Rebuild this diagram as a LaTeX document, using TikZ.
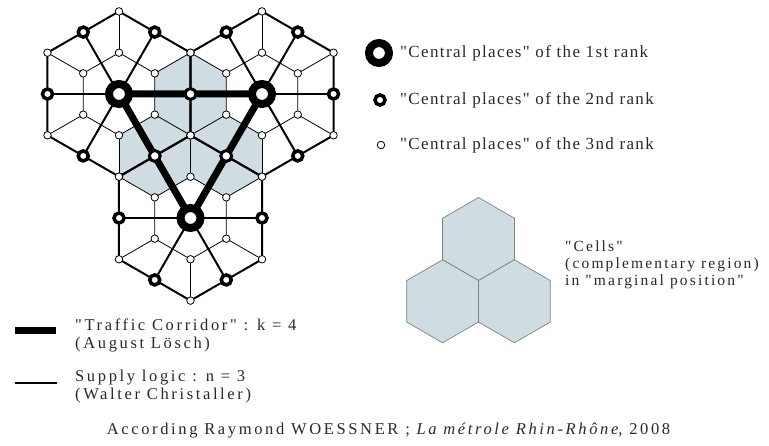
\documentclass[tikz,border=0pt]{standalone}
\usepackage{fontspec}
\setmainfont{Liberation Serif}
\newfontfamily\keyfont[LetterSpace=8]{Liberation Serif}
\newfontfamily\notefont[LetterSpace=16]{Liberation Serif}
\newfontfamily\cellfont[LetterSpace=14]{Liberation Serif}
\usetikzlibrary{calc}
\definecolor{cellblue}{RGB}{207,221,226}
\definecolor{inkgrey}{RGB}{40,40,40}
\tikzset{
  corridor/.style={
    line width=7pt,
    line join=round
  },
  rim/.style={line width=2pt, line join=round},
  fine/.style={line width=0.8pt},
  place-first/.style={
    circle,
    line width=8pt,
    fill=white,
    draw=black,
    minimum size=20pt,
    inner sep=0pt
  },
  place-second/.style={
    circle,
    line width=3.5pt,
    fill=white,
    draw=black,
    minimum size=10pt,
    inner sep=0pt
  },
  place-mid/.style={
    circle,
    line width=1.2pt,
    fill=white,
    draw=black,
    minimum size=9pt,
    inner sep=0pt
  },
  place-third/.style={
    circle,
    line width=0.8pt,
    fill=white,
    draw=black,
    minimum size=7.5pt,
    inner sep=0pt
  },
  keytext/.style={anchor=base west, inner sep=0pt, text=inkgrey,
    font=\keyfont\fontsize{17}{18}\selectfont},
  notetext/.style={anchor=base west, inner sep=0pt, text=inkgrey, align=left,
    font=\notefont\fontsize{16.5}{18}\selectfont}
}
% pointy-topped hexagon round a point
\newcommand{\hexcell}[2]{%
  ($(#1)+(30:#2)$) -- ($(#1)+(90:#2)$) -- ($(#1)+(150:#2)$) --
  ($(#1)+(210:#2)$) -- ($(#1)+(270:#2)$) -- ($(#1)+(330:#2)$) -- cycle}
\def\dd{71.5}
\def\rr{41.3}
\def\RR{82.6}

\begin{document}
\begin{tikzpicture}[x=1pt, y=-1pt]
  \useasboundingbox (0,0) rectangle (769,446);
  \coordinate (A) at (119,94);
  \coordinate (B) at (262,94);
  \coordinate (C) at (190.5,218);
  \foreach \c in {A,B,C} {
    \foreach \k in {0,...,5} {
      \coordinate (\c-r\k) at ($(\c)+(60*\k:\dd)$);
      \coordinate (\c-i\k) at ($(\c)+(60*\k+30:\rr)$);
      \coordinate (\c-o\k) at ($(\c)+(60*\k+30:\RR)$);
    }
  }
  % cells in marginal position
  \foreach \m in {A-r0,A-r1,B-r2} {
    \fill[cellblue] \hexcell{\m}{\rr};
  }
  \foreach \c in {A,B,C} {
    \draw[fine] (\c-i0) -- (\c-i1) -- (\c-i2) -- (\c-i3) -- (\c-i4) -- (\c-i5) -- cycle;
    \foreach \k in {0,...,5} {
      \draw[fine] (\c-i\k) -- (\c-o\k);
      \draw[rim] (\c) -- (\c-r\k);
    }
    \draw[rim] (\c-r0) -- (\c-o0) -- (\c-r1) -- (\c-o1) -- (\c-r2) -- (\c-o2)
      -- (\c-r3) -- (\c-o3) -- (\c-r4) -- (\c-o4) -- (\c-r5) -- (\c-o5) -- cycle;
  }
  \draw[corridor] (A) -- (B) -- (C) -- cycle;
  \foreach \c in {A,B,C} {
    \foreach \k in {0,...,5} {
      \node[place-third] (n-\c-i\k) at (\c-i\k) {};
      \node[place-third] (n-\c-o\k) at (\c-o\k) {};
      \node[place-second] (n-\c-r\k) at (\c-r\k) {};
    }
  }
  \foreach \m in {A-r0,A-r1,B-r2} {
    \node[place-mid] (n-mid-\m) at (\m) {};
  }
  \foreach \c in {A,B,C} {
    \node[place-first] (n-\c) at (\c) {};
  }

  % key
  \node[place-first] (key-first) at (379,53) {};
  \node[place-second] (key-second) at (380,100) {};
  \node[place-third] (key-third) at (381,145) {};
  \node[keytext] (txt-first) at (400,58) {"Central places" of the 1st rank};
  \node[keytext] (txt-second) at (400,105) {"Central places" of the 2nd rank};
  \node[keytext] (txt-third) at (400,150) {"Central places" of the 3nd rank};

  \coordinate (cell-top) at (478.5,239);
  \coordinate (cell-left) at (442.6,301.3);
  \coordinate (cell-right) at (514.4,301.3);
  \foreach \h in {cell-top,cell-left,cell-right} {
    \filldraw[fill=cellblue, draw=gray, line width=0.7pt] \hexcell{\h}{41.5};
  }
  \node[notetext, font=\cellfont\fontsize{15.5}{17}\selectfont] (txt-cells) at (565,286)
    {"Cells"\\(complementary region)\\in "marginal position"};

  \coordinate (bar-a) at (15,331);
  \coordinate (bar-b) at (56,331);
  \draw[line width=7pt] (bar-a) -- (bar-b);
  \node[notetext] (txt-corridor) at (75,349) {"Traffic Corridor" : k = 4\\(August Lösch)};
  \coordinate (line-a) at (15,383);
  \coordinate (line-b) at (57,383);
  \draw[line width=1.3pt] (line-a) -- (line-b);
  \node[notetext] (txt-supply) at (75,400) {Supply logic : n = 3\\(Walter Christaller)};

  \node[notetext, anchor=base] (txt-source) at (388.5,435)
    {According Raymond WOESSNER ; \textit{La métrole Rhin-Rhône}, 2008};
\end{tikzpicture}
\end{document}
